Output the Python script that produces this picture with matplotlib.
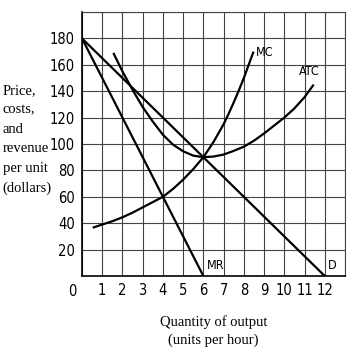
import matplotlib
matplotlib.use("Agg")
import matplotlib.pyplot as plt

# demand and marginal revenue (straight lines)
d_q = [0, 12]
d_p = [180, 0]
mr_q = [0, 6]
mr_p = [180, 0]

# marginal cost
mc_q = [0.53, 1, 1.5, 2, 2.5, 3, 3.5, 4, 4.5, 5, 5.5, 6, 6.5, 7, 7.25, 7.5, 7.75, 8, 8.25, 8.48]
mc_p = [36.6, 39, 41.5, 44.5, 48, 52, 56, 60, 66, 73, 81, 90, 101.5, 115, 123, 131.5, 140.5, 150, 160.5, 170]

# average total cost
atc_q = [1.55, 2, 2.5, 3, 3.5, 4, 4.5, 5, 5.5, 6, 6.5, 7, 7.5, 8, 8.5, 9, 9.5, 10, 10.5, 11, 11.45]
atc_p = [169, 155, 141, 128, 117, 107, 99.5, 94.5, 91.2, 90, 90.5, 92, 94.8, 98, 102.5, 108, 114, 120, 127, 135.5, 145]

xticks = list(range(1, 13))
yticks = list(range(20, 200, 20))

NARROW = dict(family=["DejaVu Sans"], stretch="condensed")
SERIF = ["Liberation Serif", "DejaVu Serif"]

fig = plt.figure(figsize=(3.54, 3.54), dpi=100)
ax = fig.add_axes([0.2316, 0.2203, 0.743, 0.7458])

ax.set_xlim(0, 13)
ax.set_ylim(0, 200)
ax.set_xticks(range(0, 14))
ax.set_yticks(range(0, 201, 20))
ax.grid(True, color="#444444", lw=0.8)
ax.set_axisbelow(True)
ax.tick_params(length=0, pad=5)
ax.set_xticklabels([str(t) if t in xticks else "" for t in range(0, 14)],
                   fontsize=10.5, **NARROW)
ax.set_yticklabels([str(t) if t in yticks else "" for t in range(0, 201, 20)],
                   fontsize=10.5, **NARROW)
for s in ax.spines.values():
    s.set_color("#444444")
    s.set_linewidth(0.8)
ax.spines["left"].set_color("black")
ax.spines["bottom"].set_color("black")
ax.spines["left"].set_linewidth(1.2)
ax.spines["bottom"].set_linewidth(1.2)

kw = dict(color="black", lw=1.6, solid_capstyle="butt")
ax.plot(d_q, d_p, **kw)
ax.plot(mr_q, mr_p, **kw)
ax.plot(mc_q, mc_p, **kw)
ax.plot(atc_q, atc_p, **kw)

lab = dict(fontsize=9, color="black", **NARROW)
ax.text(mc_q[-1] + 0.1, mc_p[-1] - 1, "MC", ha="left", va="center", **lab)
ax.text(atc_q[-1] - 0.2, atc_p[-1] + 10, "ATC", ha="center", va="center", **lab)
ax.text(mr_q[-1] + 0.15, 8, "MR", ha="left", va="center", **lab)
ax.text(d_q[-1] + 0.15, 8, "D", ha="left", va="center", **lab)

ax.text(-0.5, -12, "0", ha="center", va="center", fontsize=10.5,
        clip_on=False, **NARROW)

fig.text(0.008, 0.762, "Price,\ncosts,\nand\nrevenue\nper unit\n(dollars)",
         ha="left", va="top", family=SERIF, fontsize=10.5, linespacing=1.64)
fig.text(0.603, 0.064, "Quantity of output\n(units per hour)", ha="center",
         va="center", family=SERIF, fontsize=10.5, linespacing=1.45)

fig.savefig("out.png", dpi=100)
